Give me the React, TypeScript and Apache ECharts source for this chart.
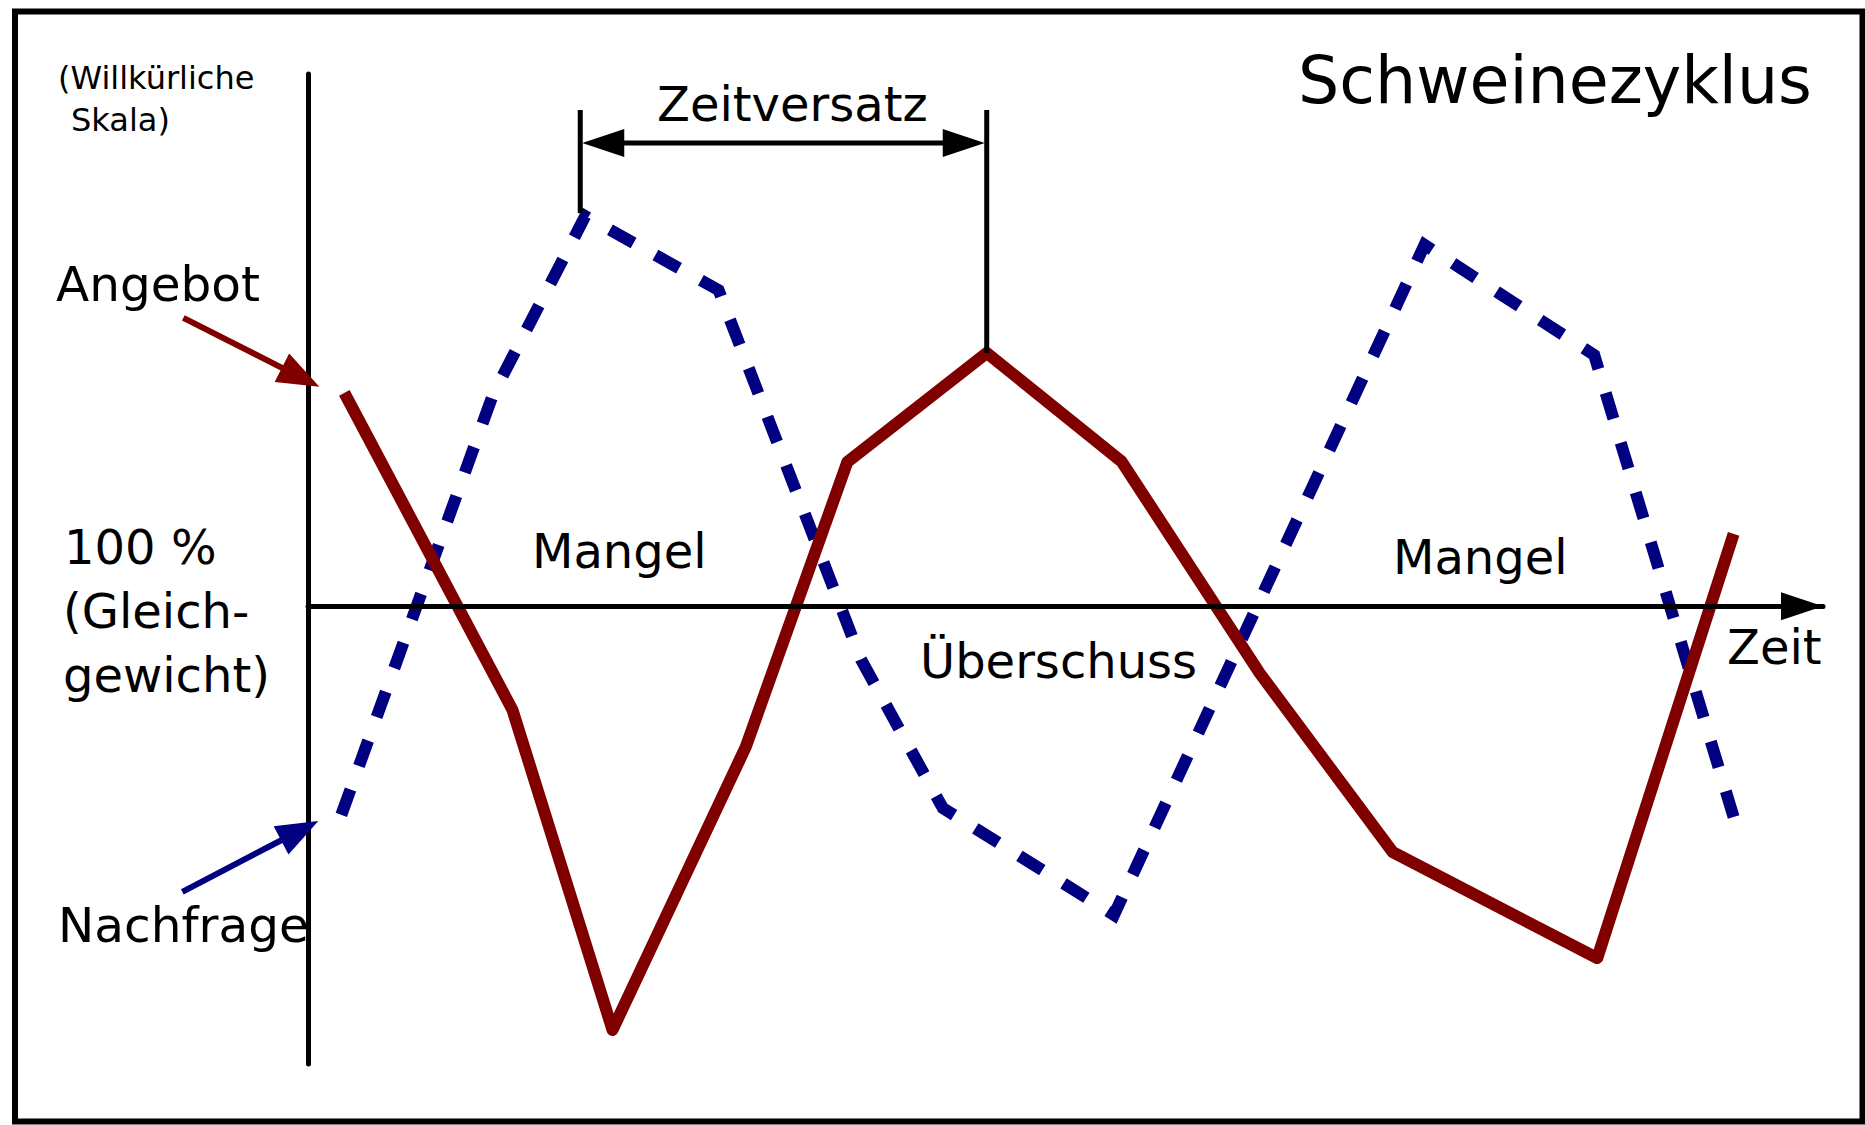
import React, { useEffect, useRef } from "react";
import * as echarts from "echarts";

// Zeit (willkürliche Einheiten, 0..100) und Abweichung vom Gleichgewicht (willkürliche Skala)
const timeAngebot = [2.4, 13.5, 20.1, 28.9, 35.6, 44.8, 53.7, 62.8, 71.6, 85.1, 94.1];
const valueAngebot = [40.1, -19.5, -79.6, -26.4, 27.1, 47.6, 27.2, -12.5, -46.2, -66.1, 13.6];
const timeNachfrage = [2.2, 12.2, 18.3, 27.1, 36.5, 41.9, 53.2, 73.7, 84.9, 94.1];
const valueNachfrage = [-39.2, 39.7, 73.3, 59.4, -10.0, -37.9, -58.0, 67.9, 47.2, -39.6];

const X_MIN = 0;
const X_MAX = 100;
const Y_MIN = -86;
const Y_MAX = 100;

const titleText = "Schweinezyklus";
const scaleNote = ["(Willkürliche", "Skala)"];
const seriesNames = ["Angebot", "Nachfrage"];
const equilibriumLabel = ["100 %", "(Gleich-", "gewicht)"];
const regionLabels = ["Mangel", "Überschuss", "Mangel"];
const timeLabel = "Zeit";
const lagLabel = "Zeitversatz";

const RED = "#800000";
const BLUE = "#000080";
const FONT = '"DejaVu Sans", "Noto Sans", sans-serif';

function txt(text: string, x: number, y: number, size: number, align = "left") {
  return {
    type: "text",
    x,
    y,
    z: 20,
    style: {
      text,
      font: `${size}px ${FONT}`,
      fill: "#000",
      align,
      verticalAlign: "middle",
      textAlign: align,
      textVerticalAlign: "middle",
    },
  };
}

export default function App() {
  const ref = useRef<HTMLDivElement>(null);
  useEffect(() => {
    const el = ref.current!;
    const chart = echarts.init(el, null, { renderer: "svg" });
    const angebot = timeAngebot.map((t, i) => [t, valueAngebot[i]]);
    const nachfrage = timeNachfrage.map((t, i) => [t, valueNachfrage[i]]);
    chart.setOption({
      animation: false,
      backgroundColor: "#ffffff",
      grid: { left: 308, right: 42, top: 74, bottom: 61 },
      xAxis: {
        type: "value",
        min: X_MIN,
        max: X_MAX,
        z: 5,
        axisLine: {
          show: true,
          onZero: true,
          symbol: ["none", "triangle"],
          symbolSize: [28, 42],
          symbolOffset: [0, -21],
          lineStyle: { color: "#000", width: 5 },
        },
        axisTick: { show: false },
        axisLabel: { show: false },
        splitLine: { show: false },
      },
      yAxis: {
        type: "value",
        min: Y_MIN,
        max: Y_MAX,
        z: 5,
        axisLine: { show: true, onZero: false, lineStyle: { color: "#000", width: 5 } },
        axisTick: { show: false },
        axisLabel: { show: false },
        splitLine: { show: false },
      },
      series: [
        {
          name: seriesNames[1],
          type: "line",
          data: nachfrage,
          showSymbol: false,
          symbol: "none",
          z: 2,
          lineStyle: { color: BLUE, width: 12, type: [27, 25], cap: "butt", join: "miter" },
        },
        {
          name: seriesNames[0],
          type: "line",
          data: angebot,
          showSymbol: false,
          symbol: "none",
          z: 3,
          lineStyle: { color: RED, width: 12, type: "solid", cap: "butt", join: "round" },
        },
      ],
    });

    const px = (x: number, y: number) => chart.convertToPixel({ gridIndex: 0 }, [x, y]) as number[];

    let peakRed = 0;
    valueAngebot.forEach((v, i) => { if (v > valueAngebot[peakRed]) peakRed = i; });
    let peakBlue = 0;
    valueNachfrage.forEach((v, i) => { if (v > valueNachfrage[peakBlue]) peakBlue = i; });
    const redPeak = px(timeAngebot[peakRed], valueAngebot[peakRed]);
    const bluePeak = px(timeNachfrage[peakBlue], valueNachfrage[peakBlue]);
    const redStart = px(timeAngebot[0], valueAngebot[0]);
    const blueStart = px(timeNachfrage[0], valueNachfrage[0]);
    const zeroLeft = px(X_MIN, 0);

    const arrowY = 143;
    const topY = 110;
    const head = 44;
    const hw = 14;

    const pointer = (tip: number[], tail: number[], color: string) => {
      const dx = tip[0] - tail[0];
      const dy = tip[1] - tail[1];
      const len = Math.sqrt(dx * dx + dy * dy);
      const ux = dx / len;
      const uy = dy / len;
      const bx = tip[0] - ux * 42;
      const by = tip[1] - uy * 42;
      const w = 16;
      return [
        {
          type: "line",
          z: 15,
          shape: { x1: tail[0], y1: tail[1], x2: bx + ux * 4, y2: by + uy * 4 },
          style: { stroke: color, lineWidth: 6 },
        },
        {
          type: "polygon",
          z: 15,
          shape: {
            points: [
              [tip[0], tip[1]],
              [bx - uy * w, by + ux * w],
              [bx + uy * w, by - ux * w],
            ],
          },
          style: { fill: color },
        },
      ];
    };

    const angTip = [redStart[0] - 25, redStart[1] - 6];
    const nachTip = [blueStart[0] - 23, blueStart[1] + 6];

    const elements: any[] = [
      {
        type: "rect",
        z: 1,
        shape: { x: 15, y: 11.5, width: 1847.5, height: 1110 },
        style: { fill: "none", stroke: "#000", lineWidth: 6 },
      },
      // Zeitversatz dimension
      {
        type: "line",
        z: 15,
        shape: { x1: bluePeak[0] - 5, y1: topY, x2: bluePeak[0] - 5, y2: bluePeak[1] - 3 },
        style: { stroke: "#000", lineWidth: 5 },
      },
      {
        type: "line",
        z: 15,
        shape: { x1: redPeak[0], y1: topY, x2: redPeak[0], y2: redPeak[1] },
        style: { stroke: "#000", lineWidth: 5 },
      },
      {
        type: "line",
        z: 15,
        shape: { x1: bluePeak[0] - 5 + head - 4, y1: arrowY, x2: redPeak[0] - head + 4, y2: arrowY },
        style: { stroke: "#000", lineWidth: 5 },
      },
      {
        type: "polygon",
        z: 15,
        shape: {
          points: [
            [bluePeak[0] - 3, arrowY],
            [bluePeak[0] - 5 + head, arrowY - hw],
            [bluePeak[0] - 5 + head, arrowY + hw],
          ],
        },
        style: { fill: "#000" },
      },
      {
        type: "polygon",
        z: 15,
        shape: {
          points: [
            [redPeak[0] - 2, arrowY],
            [redPeak[0] - head, arrowY - hw],
            [redPeak[0] - head, arrowY + hw],
          ],
        },
        style: { fill: "#000" },
      },
      ...pointer(angTip, [angTip[0] - 136, angTip[1] - 69], RED),
      ...pointer(nachTip, [nachTip[0] - 136, nachTip[1] + 71], BLUE),
      txt(titleText, 1812, 80.5, 65, "right"),
      txt(scaleNote[0], 58, 78, 32),
      txt(scaleNote[1], 71, 120, 32),
      txt(seriesNames[0], 56, 284, 48.5),
      txt(seriesNames[1], 58, 925, 48.5),
      txt(equilibriumLabel[0], 64, zeroLeft[1] - 59, 48),
      txt(equilibriumLabel[1], 63, zeroLeft[1] + 5, 48),
      txt(equilibriumLabel[2], 63, zeroLeft[1] + 69, 48),
      txt(regionLabels[0], 532, 551, 48),
      txt(regionLabels[1], 920, 661, 48),
      txt(regionLabels[2], 1393, 557, 48),
      txt(lagLabel, 657, 104, 48),
      txt(timeLabel, 1727, 647, 48),
    ];

    chart.setOption({ graphic: { elements } });
    return () => chart.dispose();
  }, []);

  return (
    <div
      ref={ref}
      style={{ position: "absolute", left: 0, top: 0, width: 1865, height: 1125, background: "#fff" }}
    />
  );
}
